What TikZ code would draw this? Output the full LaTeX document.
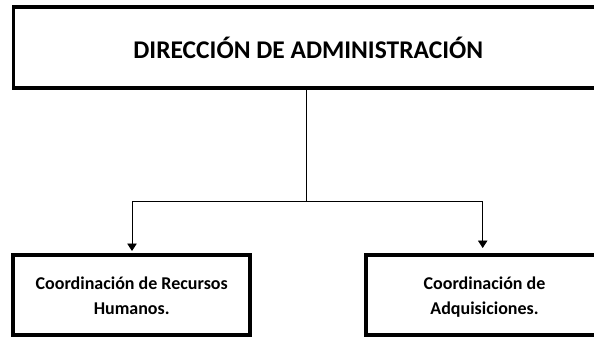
\documentclass[tikz,border=0pt]{standalone}
\usepackage{fontspec}
\setmainfont{Carlito}
\usetikzlibrary{arrows.meta}
\newcommand\mystrutx{\rule[-5.5pt]{0pt}{24.5pt}}
\begin{document}
\begin{tikzpicture}[x=1pt,y=-1pt,
  bigbox/.style={draw=black,line width=3.5pt,rectangle,inner sep=0pt,align=center,font=\bfseries\fontsize{25.5}{30}\selectfont},
  subbox/.style={draw=black,line width=4pt,rectangle,inner sep=0pt,align=center,font=\bfseries\fontsize{18}{24.5}\selectfont},
  conn/.style={draw=black,line width=0.9pt},
  tip/.style={-{Triangle[width=9.5pt,length=7.5pt]}}]
\useasboundingbox (0,0) rectangle (594,337);
\clip (0,0) rectangle (594,337);
\node[bigbox,minimum width=589.5pt,minimum height=81pt] (top) at (308.25,47.5) {DIRECCIÓN DE ADMINISTRACIÓN};
\node[subbox,minimum width=236.7pt,minimum height=80pt] (left) at (131.7,295) {\mystrutx Coordinación de Recursos\\Humanos.\mystrutx};
\node[subbox,minimum width=237pt,minimum height=80pt] (right) at (484.5,295) {\mystrutx Coordinación de\\Adquisiciones.\mystrutx};
\coordinate (j) at (306.7,201);
\coordinate (jl) at (132,201);
\coordinate (jr) at (482.7,201);
\draw[conn] (top.south -| j) -- (j);
\draw[conn] (jl) -- (jr);
\draw[conn,tip,shorten >=2pt] (jl) -- (jl |- left.north);
\draw[conn,tip,shorten >=5pt] (jr) -- (jr |- right.north);
\end{tikzpicture}
\end{document}
